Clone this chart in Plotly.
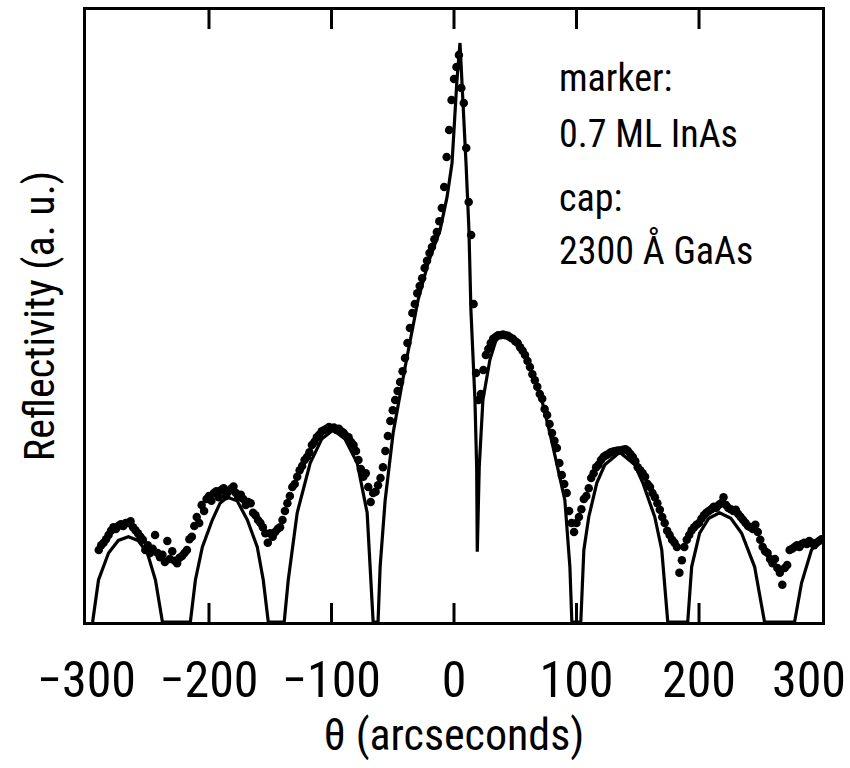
import plotly.graph_objects as go

# ---- data ----
theta_data = [
    -290, -288, -286, -284, -282, -280, -278, -276, -274, -272,
    -270, -268, -266, -264, -262, -260, -258, -256, -254, -252,
    -250, -248, -246, -244, -242, -240, -238, -236, -234, -232,
    -230, -228, -226, -224, -222, -220, -218, -216, -214, -212,
    -210, -208, -206, -204, -202, -200, -198, -196, -194, -192,
    -190, -188, -186, -184, -182, -180, -178, -176, -174, -172,
    -170, -168, -166, -164, -162, -160, -158, -156, -154, -152,
    -150, -148, -146, -144, -142, -140, -138, -136, -134, -132,
    -130, -128, -126, -124, -122, -120, -118, -116, -114, -112,
    -110, -108, -106, -104, -102, -100, -98, -96, -94, -92,
    -90, -88, -86, -84, -82, -80, -78, -76, -74, -72,
    -70, -68, -66, -64, -62, -60, -58, -56, -54, -52,
    -50, -48, -46, -44, -42, -40, -38, -36, -34, -32,
    -30, -28, -26, -24, -22, -20, -18, -16, -14, -12,
    -10, -8, -6, -4, -2, 0, 2, 4, 6, 8,
    10, 12, 14, 16, 18, 20, 22, 24, 26, 28,
    30, 32, 34, 36, 38, 40, 42, 44, 46, 48,
    50, 52, 54, 56, 58, 60, 62, 64, 66, 68,
    70, 72, 74, 76, 78, 80, 82, 84, 86, 88,
    90, 92, 94, 96, 98, 100, 102, 104, 106, 108,
    110, 112, 114, 116, 118, 120, 122, 124, 126, 128,
    130, 132, 134, 136, 138, 140, 142, 144, 146, 148,
    150, 152, 154, 156, 158, 160, 162, 164, 166, 168,
    170, 172, 174, 176, 178, 180, 182, 184, 186, 188,
    190, 192, 194, 196, 198, 200, 202, 204, 206, 208,
    210, 212, 214, 216, 218, 220, 222, 224, 226, 228,
    230, 232, 234, 236, 238, 240, 242, 244, 246, 248,
    250, 252, 254, 256, 258, 260, 262, 264, 266, 268,
    270, 272, 274, 276, 278, 280, 282, 284, 286, 288,
    290, 292, 294, 296, 298, 300,
]
refl_data = [
    12.0, 12.8, 13.2, 13.8, 14.5, 15.2, 15.8, 15.5, 16.0, 16.3,
    16.0, 16.5, 16.5, 16.8, 15.8, 15.3, 14.8, 14.2, 13.7, 12.0,
    12.8, 11.5, 12.2, 14.5, 11.5, 10.8, 11.2, 10.0, 13.5, 10.5,
    11.8, 10.2, 9.8, 10.7, 11.0, 11.5, 12.0, 13.8, 14.2, 16.0,
    17.5, 16.5, 19.5, 18.5, 20.5, 21.0, 20.2, 21.5, 21.8, 20.8,
    22.0, 22.3, 21.0, 21.8, 22.2, 22.6, 21.5, 20.8, 21.2, 20.5,
    19.5, 20.0, 19.8, 18.2, 17.8, 17.0, 16.5, 15.8, 14.8, 13.2,
    14.8, 14.2, 15.0, 15.5, 15.8, 17.0, 18.5, 19.8, 21.0, 22.5,
    23.0, 24.2, 25.3, 26.0, 27.0, 27.5, 28.3, 29.5, 30.0, 30.8,
    31.2, 31.8, 32.0, 32.2, 32.5, 32.3, 32.4, 32.0, 32.2, 31.8,
    31.5, 31.0, 30.8, 30.0, 29.5, 28.5, 27.0, 25.5, 24.2, 24.8,
    22.5, 20.0, 21.5, 21.7, 22.8, 24.0, 25.8, 28.5, 31.0, 33.5,
    35.3, 37.0, 38.5, 40.0, 41.8, 44.0, 46.5, 49.0, 51.5, 53.0,
    54.8, 56.0, 57.3, 59.0, 60.2, 61.5, 62.5, 63.8, 65.0, 66.8,
    69.0, 72.5, 77.5, 82.0, 87.0, 90.5, 92.5, 94.5, 89.0, 86.5,
    79.0, 70.0, 64.5, 53.0, 41.5, 37.0, 38.0, 42.0, 44.5, 45.5,
    46.5, 47.2, 47.5, 47.8, 47.8, 47.9, 47.8, 47.7, 47.4, 47.2,
    46.8, 46.5, 45.8, 45.2, 44.5, 43.5, 42.5, 41.3, 40.3, 39.2,
    38.0, 37.2, 35.5, 34.5, 33.0, 31.5, 30.2, 29.0, 26.5, 24.5,
    23.0, 21.5, 18.5, 16.5, 15.0, 16.5, 17.5, 18.8, 20.5, 21.0,
    22.3, 24.0, 24.8, 25.8, 26.2, 27.0, 27.5, 27.8, 28.0, 28.3,
    28.4, 28.5, 28.6, 28.6, 28.7, 28.8, 28.5, 28.0, 27.5, 26.8,
    25.8, 25.3, 24.8, 24.2, 23.0, 22.5, 21.5, 20.8, 19.8, 18.7,
    17.5, 16.5, 15.2, 14.5, 13.7, 13.2, 12.5, 8.2, 10.3, 12.5,
    13.7, 14.5, 15.3, 15.8, 16.2, 16.5, 17.2, 17.8, 18.2, 18.5,
    18.8, 19.2, 19.0, 19.5, 19.8, 20.8, 19.5, 19.0, 18.8, 18.5,
    18.7, 18.0, 17.5, 17.0, 16.5, 16.0, 15.8, 15.5, 16.2, 15.0,
    13.7, 12.5, 11.8, 11.5, 10.5, 9.8, 10.5, 9.0, 8.2, 6.2,
    9.0, 9.5, 12.0, 12.2, 12.5, 12.8, 12.5, 13.0, 13.2, 13.0,
    13.5, 13.2, 12.8, 13.2, 13.5, 13.8,
]

# simulated curve (solid line)
theta_fit = [
    -295, -290.2, -282, -274, -265.8, -258, -250.3, -243.7, -238,
    -215.2, -211.1, -205.4, -197.3, -191, -185, -177, -168.7, -160.6, -155.7, -151.6,
    -138.6, -135.3, -128, -117.4, -108, -98.6, -89, -79, -70.9, -68, -66,
    -62, -60.3, -56.2, -49.7, -39.9, -29.3, -21.2, -11.4, -5.7, -1.6, 0, 2.4, 4.9,
    6.5, 9.8, 12.2, 13.8, 17.1, 18.5, 19.0, 20.6, 23.6, 29.3, 34, 39.9, 46, 51.4,
    62, 71.7, 78.3, 84.8, 90.5, 94.6, 96.2,
    103.5, 106, 110, 116.6, 123.1, 135.3, 147.6, 154.1, 163.9, 169.6, 174.5,
    190.8, 194, 200.5, 208, 216.8, 226, 234.8, 245.4, 253.5,
    278, 283.7, 291.8, 300,
]
refl_fit = [
    0, 7, 11.5, 13.6, 14.2, 13.6, 11.5, 7, 0,
    0, 7, 12.5, 17, 19.8, 20.8, 20.2, 17, 12.5, 7, 0,
    0, 7, 18.2, 26.5, 30.5, 32, 30.5, 26.5, 18.2, 8, 0,
    0, 9.2, 20.3, 31.5, 42.5, 53.7, 59.8, 65.3, 70.8, 76.5, 82, 90.3, 96.5,
    90.3, 76.5, 65.3, 52, 37, 25.8, 11.7, 25.8, 37, 43.7, 46.8, 48.2, 47.8, 46.5,
    42.5, 37, 31.5, 25.8, 20.3, 9.2, 0,
    0, 12, 17.5, 23.2, 26.2, 28.3, 26.2, 23.2, 17.5, 12, 0,
    0, 9.2, 14.8, 17.3, 18.2, 17.3, 14.8, 9.2, 0,
    0, 6.5, 12, 14,
]

x_ticks = [-300, -200, -100, 0, 100, 200, 300]
# the last label ("300") is written as an annotation so it is not cut at the page edge
x_tick_labels = ["\u2212300", "\u2212200", "\u2212100", "0", "100", "200", ""]
last_tick_label = "300"
inner_ticks = [-200, -100, 0, 100, 200]

note_lines = ["marker:", "0.7 ML InAs", "cap:", "2300 \u00c5 GaAs"]
note_y = [90.6, 81.4, 70.6, 62.0]

FONT = "Roboto Condensed, Liberation Sans Narrow, sans-serif"
X_RANGE = [-300.4, 300.4]
Y_RANGE = [0, 102]
TICK_FONT = dict(family=FONT, size=50, color="black")
TICK_HALF = 1.3  # half a tick mark, in y-axis units

fig = go.Figure()
fig.add_trace(go.Scatter(
    x=theta_fit, y=refl_fit, mode="lines",
    line=dict(color="black", width=3.2),
    showlegend=False, hoverinfo="skip",
))
fig.add_trace(go.Scatter(
    x=theta_data, y=refl_data, mode="markers",
    marker=dict(color="black", size=8.5, line=dict(width=0)),
    showlegend=False,
))
# inward tick marks on the bottom and top frame
for y_tick in (Y_RANGE[0] + TICK_HALF, Y_RANGE[1] - TICK_HALF):
    fig.add_trace(go.Scatter(
        x=inner_ticks, y=[y_tick] * len(inner_ticks), mode="markers",
        marker=dict(symbol="line-ns-open", size=16, color="black", line=dict(width=3, color="black")),
        showlegend=False, hoverinfo="skip",
    ))

for txt, yy in zip(note_lines, note_y):
    fig.add_annotation(
        x=84.0, y=yy, xref="x", yref="y", text=txt, showarrow=False,
        xanchor="left", yanchor="middle",
        font=dict(family=FONT, size=38, color="black"),
    )

fig.add_annotation(
    x=1.0355, y=-0.095, xref="paper", yref="paper", text=last_tick_label, showarrow=False,
    xanchor="right", yanchor="middle", font=TICK_FONT,
)

fig.update_layout(
    width=850, height=768,
    margin=dict(l=86, r=28, t=10, b=146),
    paper_bgcolor="white", plot_bgcolor="white",
    font=dict(family=FONT, color="black"),
    xaxis=dict(
        range=X_RANGE, automargin=False, tickangle=0,
        tickmode="array", tickvals=x_ticks, ticktext=x_tick_labels,
        ticks="outside", ticklen=12, tickwidth=1, tickcolor="rgba(0,0,0,0)",
        ticklabeloverflow="allow",
        showline=True, linewidth=3, linecolor="black", mirror=True,
        showgrid=False, zeroline=False,
        tickfont=TICK_FONT,
        title=dict(text="\u03b8 (arcseconds)", font=dict(family=FONT, size=44, color="black"), standoff=12),
    ),
    yaxis=dict(
        range=Y_RANGE, automargin=False,
        showticklabels=False, ticks="",
        showline=True, linewidth=3, linecolor="black", mirror=True,
        showgrid=False, zeroline=False,
        title=dict(text="Reflectivity (a. u.)", font=dict(family=FONT, size=42, color="black"), standoff=16),
    ),
)

fig.write_html("out.html")
